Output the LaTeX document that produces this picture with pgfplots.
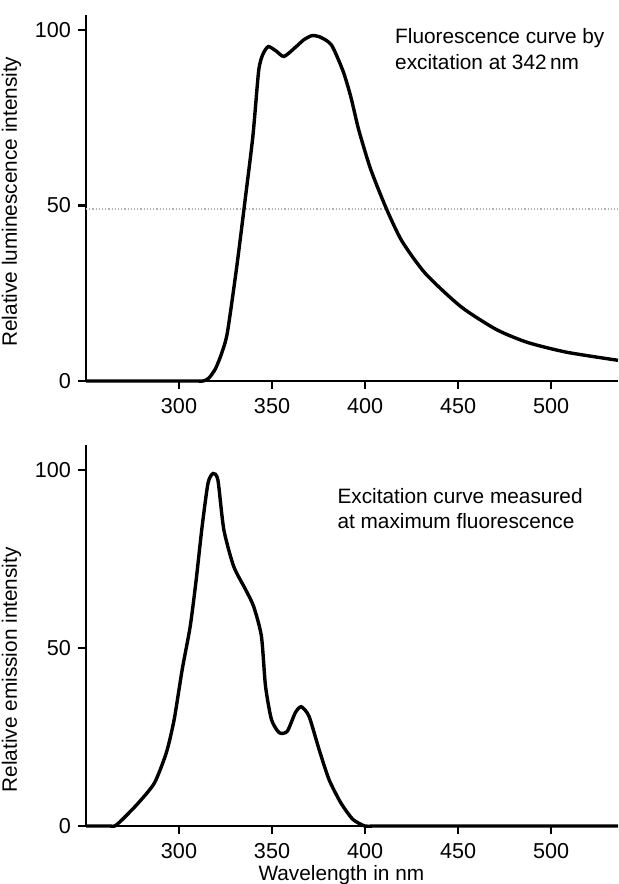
\documentclass[border=0pt]{standalone}
\usepackage{fontspec}
\setmainfont{Liberation Sans}
\usepackage{pgfplots}
\pgfplotsset{compat=1.18}
\begin{document}
\begin{tikzpicture}
\useasboundingbox (0,0) rectangle (309pt,-442pt);
\pgfplotsset{
  myax/.style={
    scale only axis,
    width=266pt,
    xmin=250, xmax=536, ymin=0,
    axis x line=bottom, axis y line=left,
    axis line style={line width=1.4pt,-},
    xtick={300,350,400,450,500},
    ytick={0,50,100},
    tick align=outside,
    major tick length=4pt,
    tick style={line width=1.2pt,black},
    /pgf/number format/assume math mode=true,
    ticklabel style={font=\fontsize{10.8}{12}\selectfont},
    label style={font=\fontsize{10.4}{12}\selectfont},
    xticklabel style={yshift=-1pt},
    clip=false,
  }
}
\begin{axis}[myax,
  at={(43pt,-190.5pt)}, anchor=south west,
  height=183pt, ymax=104.3,
  ylabel={Relative luminescence intensity},
  ylabel style={at={(ticklabel cs:0.49)}},
]
\draw[gray!60, densely dotted, line width=0.6pt] (axis cs:250,49) -- (axis cs:536,49);
\addplot[line width=1.7pt, smooth, tension=0.4] coordinates {
(250,0) (280,0) (300,0) (310,0) (313,0) (316,0.8) (319.6,3.5) (323,8) (326,13.8) (331,32.4) (335.4,51) (339.7,69.7)
(342.8,88.3) (345,93) (348,95.3) (352.3,94) (356.5,92.5) (363,95.3) (367,97.2) (371.3,98.4)
(375.5,98.1) (381.9,95.8) (388.2,88.3) (392.4,80.9) (396.6,71.6) (403,60.4) (411.4,49.2)
(419.8,39.9) (432.5,30.6) (451.5,21.2) (470.5,14.7) (487.3,11) (508.4,8.2) (536,5.9)
};
\node[anchor=north west, align=left, font=\fontsize{10.4}{12.8}\selectfont, inner sep=0pt]
  at (axis cs:416,100.5) {Fluorescence curve by\\excitation at 342\,nm};
\end{axis}
\begin{axis}[myax,
  at={(43pt,-413pt)}, anchor=south west,
  height=190.5pt, ymax=107,
  ylabel={Relative emission intensity},
  ylabel style={at={(ticklabel cs:0.41)}},
  xlabel={Wavelength in nm},
  xlabel style={at={(axis description cs:0.48,0)}, anchor=north, inner sep=0pt, yshift=-19.5pt},
]
\addplot[line width=1.7pt, smooth, tension=0.4] coordinates {
(250,0) (258,0) (263,0) (265.5,0) (269.7,1.9) (278.2,6.5) (286.8,12.1) (293.2,20.6) (297.4,29.9) (301.7,43.9)
(306,56) (309.2,69) (312.4,84) (315.6,96.3) (318.3,99) (320.9,97.2) (324.1,83.2) (329.4,72.9)
(335.8,66.4) (340.1,61.7) (344.3,53.3) (346.5,39.3) (349.7,29.9) (353.9,26.2) (358.2,26.6)
(362.5,31.8) (365.7,33.5) (369.9,30.8) (375.3,21.5) (380.6,13.1) (387,6.5) (393.4,1.9)
(399.8,0) (404,0) (410,0) (430,0) (536,0)
};
\node[anchor=north west, align=left, font=\fontsize{10.4}{12.8}\selectfont, inner sep=0pt]
  at (axis cs:385,95) {Excitation curve measured\\at maximum fluorescence};
\end{axis}
\end{tikzpicture}
\end{document}
